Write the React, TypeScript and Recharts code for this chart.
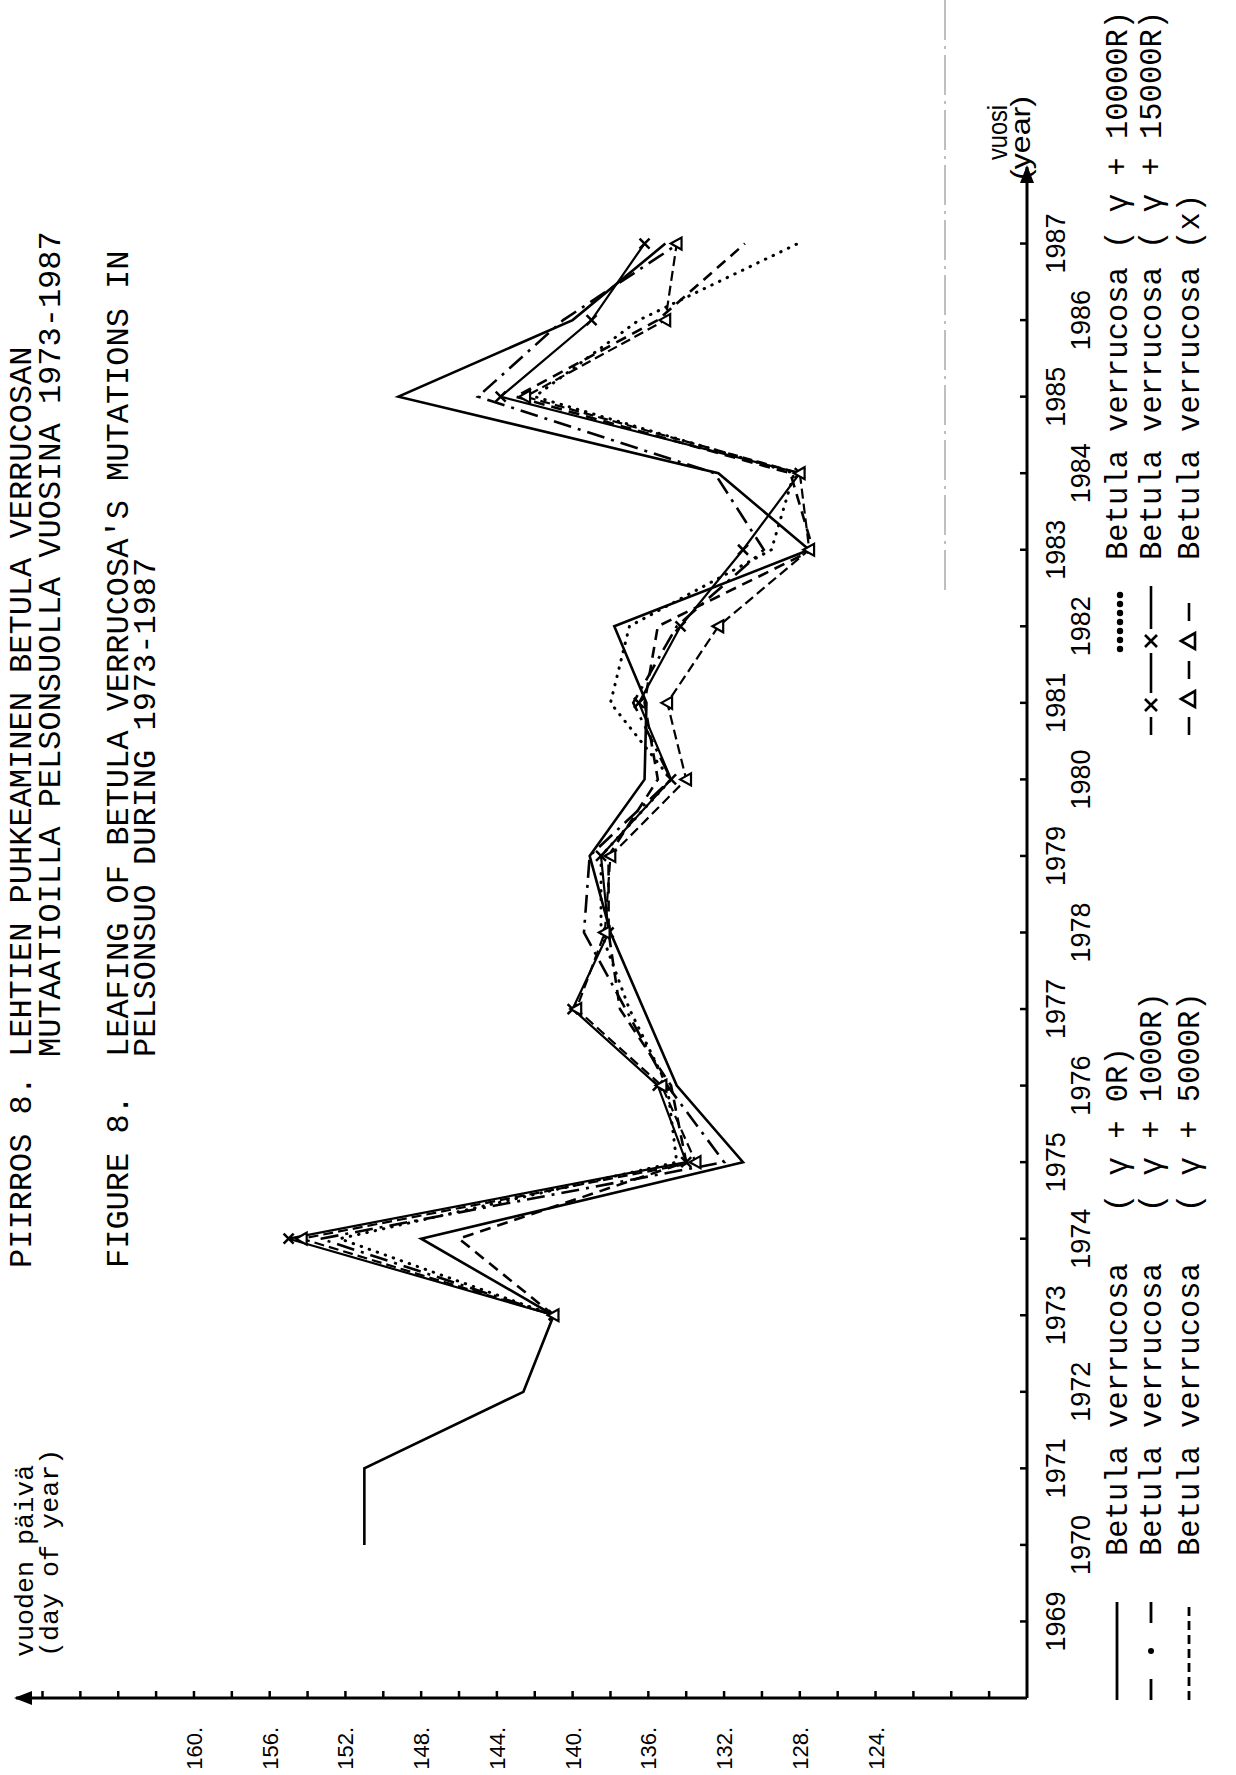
import React from 'react';
import { LineChart, Line, XAxis, YAxis, ReferenceDot } from 'recharts';

// ---- data (day of year of leafing) ----
const years = [1970, 1971, 1972, 1973, 1974, 1975, 1976, 1977, 1978, 1979, 1980, 1981, 1982, 1983, 1984, 1985, 1986, 1987];
const gamma0R = [151, 151, 142.6, 141, 148, 131, 134.5, null, 138, 139.1, 136.2, 136.1, 137.8, 127.5, 132.3, 149.2, 140, 135.1];
const gamma1000R = [null, null, null, 141, 153.3, 132, 135, 137.2, 139.4, 139.1, 134.8, 136.8, 134.5, 129.9, 132.5, 145, 140.5, 134.4];
const gamma5000R = [null, null, null, 141, 146, 134, 134.8, 137.5, 138.1, 138.1, 135.5, 136.2, 135.5, 127.3, 128.5, 143, 135.5, 130.9];
const gamma10000R = [null, null, null, 141, 152.3, 134.5, 135, 137, 138.5, 138.5, 134.8, 138, 137, 129.5, 128.3, 142, 136.5, 128.1];
const gamma15000R = [null, null, null, 141, 155, 134, 135.5, 140, 138.1, 138.5, 134.8, 136.5, 134.3, 131, 128, 143.8, 139, 136.2];
const mutantX = [null, null, null, 141, 154.3, 133.5, 135.3, 139.8, 138.3, 138, 134, 135, 132.3, 127.5, 128, 142.5, 135.1, 134.5];

const yearTicks = [1969, 1970, 1971, 1972, 1973, 1974, 1975, 1976, 1977, 1978, 1979, 1980, 1981, 1982, 1983, 1984, 1985, 1986, 1987];
const dayTicks = [118, 120, 122, 124, 126, 128, 130, 132, 134, 136, 138, 140, 142, 144, 146, 148, 150, 152, 154, 156, 158, 160, 162, 164, 166, 168];
const dayLabels = [124, 128, 132, 136, 140, 144, 148, 152, 156, 160];

const data = years.map((year, i) => ({
  year,
  g0: gamma0R[i],
  g1000: gamma1000R[i],
  g5000: gamma5000R[i],
  g10000: gamma10000R[i],
  g15000: gamma15000R[i],
  gx: mutantX[i],
}));

const MONO = "'Courier New', 'Liberation Mono', monospace";
const SANS = "'Liberation Sans', Arial, sans-serif";

const YearTick = (props: any) => {
  const { x, y, payload } = props;
  const odd = payload.value % 2 === 1;
  return (
    <g>
      <line x1={x} x2={x} y1={y} y2={y - 7} stroke="#000" strokeWidth={2.5} />
      <text x={x} y={y + (odd ? 38 : 63)} textAnchor="middle" fontSize={27} fontFamily={SANS} fill="#000">
        {payload.value}
      </text>
    </g>
  );
};

const DayTick = (props: any) => {
  const { x, y, payload } = props;
  const labelled = dayLabels.includes(payload.value);
  return (
    <g>
      <line x1={x} x2={x + 7} y1={y} y2={y} stroke="#000" strokeWidth={2.5} />
      {labelled && (
        <text x={48} y={y + 8} textAnchor="end" fontSize={22} fontFamily={SANS} fill="#000">
          {payload.value + '.'}
        </text>
      )}
    </g>
  );
};

const XDot = (props: any) => {
  const { cx, cy, value, index } = props;
  if (cx == null || cy == null || value == null) return <g key={`xd${index}`} />;
  const s = 5;
  return (
    <path
      key={`xd${index}`}
      d={`M${cx - s},${cy - s}L${cx + s},${cy + s}M${cx - s},${cy + s}L${cx + s},${cy - s}`}
      stroke="#000"
      strokeWidth={2.5}
    />
  );
};

const TriDot = (props: any) => {
  const { cx, cy, value, index } = props;
  if (cx == null || cy == null || value == null) return <g key={`td${index}`} />;
  const s = 6;
  return (
    <path
      key={`td${index}`}
      d={`M${cx},${cy - s}L${cx + s},${cy + s * 0.8}L${cx - s},${cy + s * 0.8}Z`}
      fill="#fff"
      stroke="#000"
      strokeWidth={2.2}
    />
  );
};

const ArrowRight = (p: any) => (
  <path d={`M${p.cx + 2},${p.cy} L${p.cx - 16},${p.cy - 7} L${p.cx - 16},${p.cy + 7} Z`} fill="#000" />
);
const ArrowUp = (p: any) => (
  <path d={`M${p.cx},${p.cy - 2} L${p.cx - 7},${p.cy + 16} L${p.cx + 7},${p.cy + 16} Z`} fill="#000" />
);

const Overlay = () => (
  <svg width={1775} height={1236} style={{ position: 'absolute', left: 0, top: 0, pointerEvents: 'none' }}>
    {/* faint scan line */}
    <line x1={1185} x2={1775} y1={945} y2={945} stroke="#aaa" strokeWidth={1.5} strokeDasharray="40 6 3 6" />
    {/* titles */}
    <g fontFamily={MONO} fontSize={32} fill="#000">
      <text x={507} y={31}>PIIRROS 8.</text>
      <text x={718} y={31}>LEHTIEN PUHKEAMINEN BETULA VERRUCOSAN</text>
      <text x={718} y={60}>MUTAATIOILLA PELSONSUOLLA VUOSINA 1973-1987</text>
      <text x={507} y={128}>FIGURE 8.</text>
      <text x={718} y={128}>LEAFING OF BETULA VERRUCOSA'S MUTATIONS IN</text>
      <text x={718} y={155}>PELSONSUO DURING 1973-1987</text>
    </g>
    {/* axis titles */}
    <g fontFamily={MONO} fontSize={26.7} fill="#000">
      <text x={118} y={33}>vuoden päivä</text>
      <text x={118} y={58}>(day of year)</text>
    </g>
    <g fontFamily={SANS} fontSize={28} fill="#000">
      <text x={1615} y={1007} textLength={55} lengthAdjust="spacingAndGlyphs">vuosi</text>
      <text x={1595} y={1030} textLength={84} lengthAdjust="spacingAndGlyphs">(year)</text>
    </g>
    {/* legend, left column */}
    <g stroke="#000" strokeWidth={2.8} fill="none">
      <line x1={75} x2={173} y1={1117} y2={1117} />
      <line x1={75} x2={96} y1={1151} y2={1151} />
      <line x1={152} x2={173} y1={1151} y2={1151} />
      <line x1={75} x2={173} y1={1189} y2={1189} strokeDasharray="9 5" />
    </g>
    <circle cx={124} cy={1151} r={3} fill="#000" />
    <g fontFamily={MONO} fontSize={30.5} fill="#000">
      <text x={219} y={1127}>Betula verrucosa</text>
      <text x={563} y={1127}>( γ + 0R)</text>
      <text x={219} y={1161}>Betula verrucosa</text>
      <text x={563} y={1161}>( γ + 1000R)</text>
      <text x={219} y={1199}>Betula verrucosa</text>
      <text x={563} y={1199}>( γ + 5000R)</text>
    </g>
    {/* legend, right column */}
    <g fill="#000">
      {[0, 1, 2, 3, 4, 5, 6].map((i) => (
        <circle key={i} cx={1126 + i * 9} cy={1120} r={3.2} />
      ))}
    </g>
    <g stroke="#000" strokeWidth={2.6} fill="none">
      <line x1={1040} x2={1058} y1={1151} y2={1151} />
      <path d="M1064,1145 L1076,1157 M1064,1157 L1076,1145" />
      <line x1={1082} x2={1122} y1={1151} y2={1151} />
      <path d="M1128,1145 L1140,1157 M1128,1157 L1140,1145" />
      <line x1={1146} x2={1189} y1={1151} y2={1151} />
      <line x1={1040} x2={1058} y1={1189} y2={1189} />
      <path d="M1076,1181 L1084,1195 L1068,1195 Z" />
      <line x1={1096} x2={1114} y1={1189} y2={1189} />
      <path d="M1134,1181 L1142,1195 L1126,1195 Z" />
      <line x1={1154} x2={1172} y1={1189} y2={1189} />
    </g>
    <g fontFamily={MONO} fontSize={30.5} fill="#000">
      <text x={1215} y={1127}>Betula verrucosa ( γ + 10000R)</text>
      <text x={1215} y={1161}>Betula verrucosa ( γ + 15000R)</text>
      <text x={1215} y={1199}>Betula verrucosa (x)</text>
    </g>
  </svg>
);

export default function App() {
  return (
    <div style={{ width: 1236, height: 1775, position: 'relative', overflow: 'hidden', background: '#fff' }}>
      <style>{`body{margin:0;background:#fff}`}</style>
      <div
        style={{
          position: 'absolute',
          left: 0,
          top: 0,
          width: 1775,
          height: 1236,
          transformOrigin: '0 0',
          transform: 'translate(0px, 1775px) rotate(-90deg)',
        }}
      >
        <LineChart width={1775} height={1236} data={data} margin={{ top: 16, right: 167, bottom: 0, left: 0 }}>
          <XAxis
            dataKey="year"
            type="number"
            domain={[1968, 1988]}
            ticks={yearTicks}
            interval={0}
            tick={<YearTick />}
            tickLine={false}
            tickSize={0}
            tickMargin={0}
            axisLine={{ stroke: '#000', strokeWidth: 3 }}
            height={209}
            allowDataOverflow
          />
          <YAxis
            type="number"
            domain={[116, 169.4]}
            ticks={dayTicks}
            interval={0}
            tick={<DayTick />}
            tickLine={false}
            tickSize={0}
            tickMargin={0}
            axisLine={{ stroke: '#000', strokeWidth: 3 }}
            width={77}
            allowDataOverflow
          />
          <Line dataKey="g0" stroke="#000" strokeWidth={2.6} dot={false} connectNulls isAnimationActive={false} />
          <Line dataKey="g1000" stroke="#000" strokeWidth={2.6} strokeDasharray="18 7 3 7" dot={false} connectNulls isAnimationActive={false} />
          <Line dataKey="g5000" stroke="#000" strokeWidth={2.6} strokeDasharray="11 7" dot={false} connectNulls isAnimationActive={false} />
          <Line dataKey="g10000" stroke="#000" strokeWidth={3} strokeDasharray="0.5 8" strokeLinecap="round" dot={false} connectNulls isAnimationActive={false} />
          <Line dataKey="g15000" stroke="#000" strokeWidth={2.2} dot={<XDot />} connectNulls isAnimationActive={false} />
          <Line dataKey="gx" stroke="#000" strokeWidth={2.2} strokeDasharray="10 5" dot={<TriDot />} connectNulls isAnimationActive={false} />
          <ReferenceDot x={1988} y={116} r={0} ifOverflow="visible" shape={ArrowRight} />
          <ReferenceDot x={1968} y={169.4} r={0} ifOverflow="visible" shape={ArrowUp} />
        </LineChart>
        <Overlay />
      </div>
    </div>
  );
}
